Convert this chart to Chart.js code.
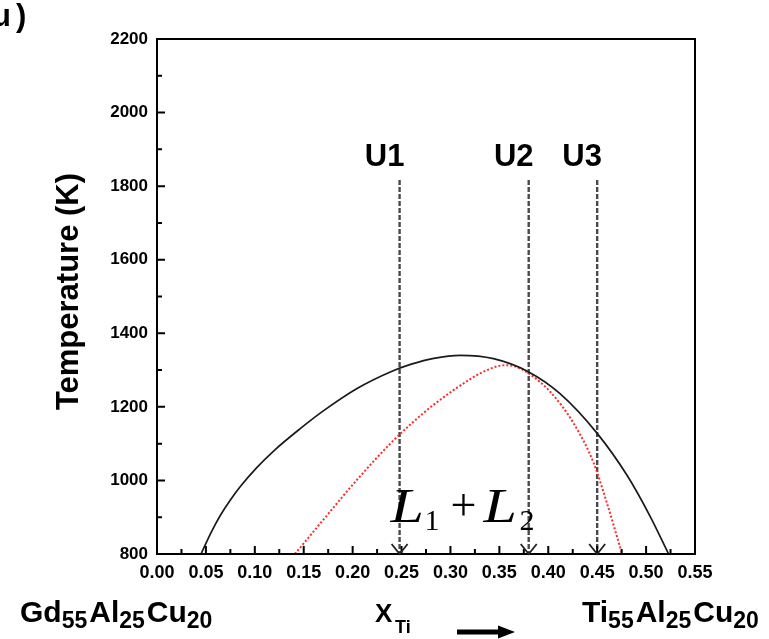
<!DOCTYPE html>
<html>
<head>
<meta charset="utf-8">
<script src="https://cdn.jsdelivr.net/npm/chart.js@4/dist/chart.umd.min.js"></script>
<style>
  html, body { margin: 0; padding: 0; background: #fff; }
  #c { display: block; }
</style>
</head>
<body>
<canvas id="c" width="769" height="639"></canvas>
<script>
// ---- data ----
const blackX = [0.045, 0.055, 0.065, 0.075, 0.085, 0.102, 0.120, 0.147, 0.170, 0.2045, 0.2385, 0.260, 0.283, 0.310, 0.344, 0.380, 0.412, 0.450, 0.481, 0.504, 0.523];
const blackT = [800, 857, 906, 947, 983, 1035, 1082, 1142, 1189, 1250, 1295, 1316, 1332, 1340, 1331, 1295, 1236, 1128, 1012, 903, 800];

const redX = [0.141, 0.170, 0.2045, 0.2385, 0.259, 0.283, 0.317, 0.335, 0.355, 0.366, 0.380, 0.402, 0.426, 0.4465, 0.460, 0.4755];
const redT = [800, 893, 1002, 1100, 1152, 1206, 1270, 1297, 1313, 1310, 1291, 1241, 1155, 1047, 938, 800];

const uLabels = ['U1', 'U2', 'U3'];
const uX = [0.248, 0.380, 0.450];
const uTopT = 1817;
const uBottomT = 800;

const xMin = 0, xMax = 0.55, xStep = 0.025;
const yMin = 800, yMax = 2200, yStep = 100;

// ---- helpers ----
function hasFont(name) {
  const c = document.createElement('canvas').getContext('2d');
  const s = '0.25 mmmWil';
  c.font = '40px monospace';
  const a = c.measureText(s).width;
  c.font = "40px '" + name + "', monospace";
  return c.measureText(s).width !== a;
}
const narrow = hasFont('Liberation Sans Narrow');
const xTickFont = narrow
  ? { family: "'Liberation Sans Narrow', 'Liberation Sans', Arial, sans-serif", size: 22, weight: 'bold' }
  : { family: "'Liberation Sans', Arial, sans-serif", size: 18, weight: 'bold' };
const yTickFont = { family: "'Liberation Sans', Arial, sans-serif", size: 17, weight: 'bold' };

const toPts = (xs, ys) => xs.map((x, i) => ({ x: x, y: ys[i] }));
const isMultiple = (v, m) => Math.abs(Math.round(v / m) * m - v) < 1e-6;

const uDatasets = uX.map(x => ({
  data: [{ x: x, y: uTopT }, { x: x, y: uBottomT }],
  borderColor: '#4a4a4a',
  borderWidth: 2.4,
  borderDash: [5, 2],
  pointRadius: 0,
  tension: 0,
  fill: false
}));

const decor = {
  id: 'decor',
  afterDatasetsDraw(chart) {
    const ctx = chart.ctx;
    const xs = chart.scales.x, ys = chart.scales.y;
    const a = chart.chartArea;
    ctx.save();

    // inward ticks
    ctx.strokeStyle = '#000';
    ctx.lineWidth = 2;
    ctx.beginPath();
    xs.ticks.forEach(t => {
      const px = xs.getPixelForValue(t.value);
      const len = isMultiple(t.value, 0.05) ? 8 : 5;
      ctx.moveTo(px, a.bottom);
      ctx.lineTo(px, a.bottom - len);
    });
    ys.ticks.forEach(t => {
      const py = ys.getPixelForValue(t.value);
      const len = isMultiple(t.value, 200) ? 8 : 5;
      ctx.moveTo(a.left, py);
      ctx.lineTo(a.left + len, py);
    });
    ctx.stroke();

    // frame
    ctx.lineWidth = 2;
    ctx.strokeRect(a.left, a.top, a.right - a.left, a.bottom - a.top);

    // arrow heads and U labels
    ctx.lineWidth = 1.8;
    ctx.strokeStyle = '#222';
    ctx.fillStyle = '#000';
    ctx.font = "bold 31px 'Liberation Sans', Arial, sans-serif";
    ctx.textAlign = 'center';
    ctx.textBaseline = 'middle';
    uX.forEach((x, i) => {
      const px = xs.getPixelForValue(x);
      const py = ys.getPixelForValue(uBottomT);
      ctx.beginPath();
      ctx.moveTo(px - 8, py - 10);
      ctx.lineTo(px, py);
      ctx.lineTo(px + 8, py - 10);
      ctx.stroke();
      const ty = ys.getPixelForValue(uTopT);
      ctx.fillText(uLabels[i], px - 15, ty - 22);
    });

    // L1 + L2
    const ax = xs.getPixelForValue(uX[0]);
    const by = ys.getPixelForValue(887);
    ctx.textAlign = 'left';
    ctx.textBaseline = 'alphabetic';
    ctx.fillStyle = '#000';
    const drawL = (x) => {
      ctx.save();
      ctx.translate(x, by);
      ctx.scale(1.25, 1);
      ctx.font = "italic 48px 'Liberation Serif', 'Times New Roman', serif";
      ctx.fillText('L', 0, 0);
      ctx.restore();
    };
    drawL(ax - 9);
    drawL(ax + 84);
    ctx.font = "30px 'Liberation Serif', 'Times New Roman', serif";
    ctx.fillText('1', ax + 25, by + 8);
    ctx.fillText('2', ax + 120, by + 8);
    ctx.font = "46px 'Liberation Serif', 'Times New Roman', serif";
    ctx.fillText('+', ax + 51, by - 2);

    ctx.restore();
  },
  afterDraw(chart) {
    const ctx = chart.ctx;
    ctx.save();
    ctx.fillStyle = '#000';
    ctx.textBaseline = 'alphabetic';
    ctx.textAlign = 'left';
    const sans = "'Liberation Sans', Arial, sans-serif";

    function chem(parts, x, y) {
      parts.forEach(p => {
        if (p[1]) {
          ctx.font = 'bold 23px ' + sans;
          ctx.fillText(p[0], x, y + 6);
          x += ctx.measureText(p[0]).width + 2;
        } else {
          ctx.font = 'bold 30px ' + sans;
          ctx.fillText(p[0], x, y);
          x += ctx.measureText(p[0]).width;
        }
      });
    }
    chem([['Gd', 0], ['55', 1], ['Al', 0], ['25', 1], ['Cu', 0], ['20', 1]], 20, 622);
    chem([['Ti', 0], ['55', 1], ['Al', 0], ['25', 1], ['Cu', 0], ['20', 1]], 582, 622);

    ctx.font = 'bold 26px ' + sans;
    ctx.fillText('X', 375, 622);
    ctx.font = 'bold 18px ' + sans;
    ctx.fillText('Ti', 395, 633);

    // arrow
    ctx.fillRect(457, 629.5, 44, 5);
    ctx.beginPath();
    ctx.moveTo(498, 625.5);
    ctx.lineTo(515, 632);
    ctx.lineTo(498, 638.5);
    ctx.closePath();
    ctx.fill();

    // y title
    ctx.save();
    ctx.translate(78, 291.5);
    ctx.rotate(-Math.PI / 2);
    ctx.textAlign = 'center';
    ctx.font = 'bold 31px ' + sans;
    ctx.fillText('Temperature (K)', 0, 0);
    ctx.restore();

    // panel label
    ctx.font = 'bold 31px ' + sans;
    ctx.fillText('u', -8, 26);
    ctx.fillText(')', 16, 26);
    ctx.restore();
  }
};

new Chart(document.getElementById('c'), {
  type: 'line',
  data: {
    datasets: [
      {
        data: toPts(blackX, blackT),
        borderColor: '#1a1a1a',
        borderWidth: 1.7,
        pointRadius: 0,
        cubicInterpolationMode: 'monotone',
        fill: false
      },
      {
        data: toPts(redX, redT),
        borderColor: '#ff2a2a',
        borderWidth: 2,
        borderDash: [2, 2],
        pointRadius: 0,
        cubicInterpolationMode: 'monotone',
        fill: false
      }
    ].concat(uDatasets)
  },
  options: {
    responsive: false,
    devicePixelRatio: 1,
    animation: false,
    layout: { padding: { left: 0, top: 39, right: 74, bottom: 0 } },
    plugins: { legend: { display: false }, tooltip: { enabled: false } },
    scales: {
      x: {
        type: 'linear',
        min: xMin, max: xMax,
        afterFit: s => { s.height = 85; },
        grid: { display: false, drawTicks: false },
        border: { display: true, color: '#000', width: 2 },
        ticks: {
          stepSize: xStep,
          autoSkip: false,
          maxRotation: 0,
          padding: 8,
          color: '#000',
          font: xTickFont,
          callback: v => isMultiple(v, 0.05) ? (Math.round(v * 100) / 100).toFixed(2) : ''
        }
      },
      y: {
        type: 'linear',
        min: yMin, max: yMax,
        afterFit: s => { s.width = 157; },
        grid: { display: false, drawTicks: false },
        border: { display: true, color: '#000', width: 2 },
        ticks: {
          stepSize: yStep,
          autoSkip: false,
          padding: 9,
          color: '#000',
          font: yTickFont,
          callback: v => isMultiple(v, 200) ? String(Math.round(v)) : ''
        }
      }
    }
  },
  plugins: [decor]
});
</script>
</body>
</html>
